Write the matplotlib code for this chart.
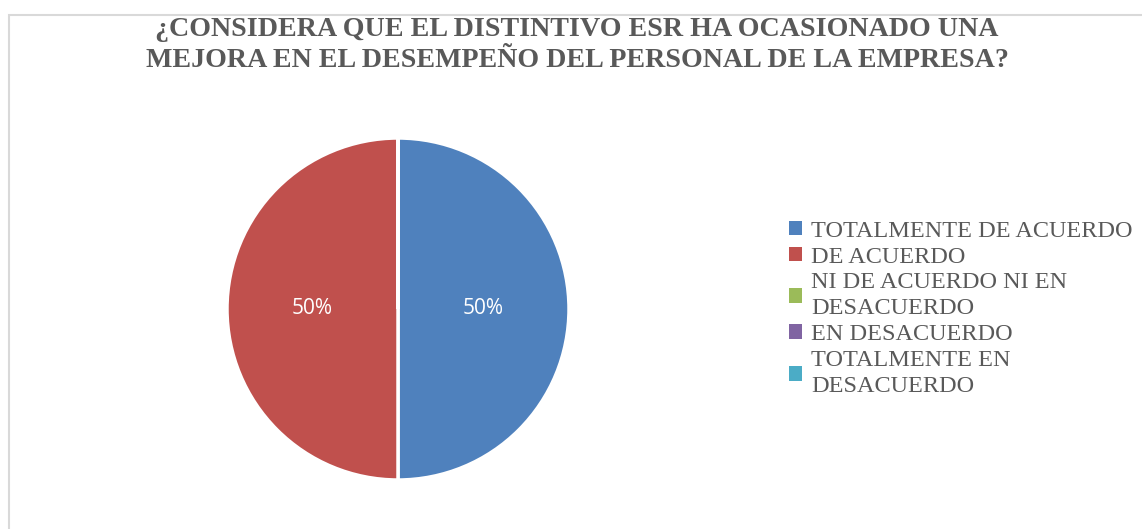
import matplotlib
matplotlib.use("Agg")
import matplotlib.pyplot as plt
from matplotlib.patches import Rectangle

title = "¿CONSIDERA QUE EL DISTINTIVO ESR HA OCASIONADO UNA\nMEJORA EN EL DESEMPEÑO DEL PERSONAL DE LA EMPRESA?"
categories = ["TOTALMENTE DE ACUERDO", "DE ACUERDO", "NI DE ACUERDO NI EN\nDESACUERDO",
              "EN DESACUERDO", "TOTALMENTE EN\nDESACUERDO"]
values = [50, 50, 0, 0, 0]
colors = ["#4F81BD", "#C0504D", "#9BBB59", "#8064A2", "#4BACC6"]

W, H = 1142, 529
fig = plt.figure(figsize=(W / 100, H / 100), dpi=100)
fig.patch.set_facecolor("white")

# chart border
fig.add_artist(Rectangle((8.5 / W, -0.1), 1.2, 1 - 14.5 / H + 0.1, transform=fig.transFigure,
                         fill=False, edgecolor="#d9d9d9", linewidth=1.5))

fig.text(577 / W, 1 - 45 / H, title, ha="center", va="center", fontsize=20.2,
         fontweight="bold", family="Liberation Serif", color="#595959", linespacing=1.35)

cx, cy, r = 398, 309, 171
ax = fig.add_axes([(cx - r) / W, (H - cy - r) / H, 2 * r / W, 2 * r / H])

def fmt(p):
    return f"{p:.0f}%" if p > 0 else ""

wedges, texts, autotexts = ax.pie(values, colors=colors, startangle=90, counterclock=False,
                                  autopct=fmt, pctdistance=0.5, radius=1,
                                  wedgeprops=dict(edgecolor="white", linewidth=2.5))
for t in autotexts:
    t.set_color("white")
    t.set_fontsize(15)
    t.set_family("Open Sans")
ax.set_xlim(-1, 1)
ax.set_ylim(-1, 1)
ax.set_aspect("equal")
ax.axis("off")

leg = fig.legend(wedges, categories, loc="center left", bbox_to_anchor=(789 / W, 1 - 309 / H),
                 frameon=False, prop={"family": "Liberation Serif", "size": 17.5},
                 handlelength=0.55, handleheight=0.55, handletextpad=0.35, labelspacing=0.2,
                 borderpad=0, borderaxespad=0, labelcolor="#595959")
for h in leg.legend_handles:
    h.set_edgecolor("none")
for t in leg.get_texts():
    t.set_linespacing(1.32)

fig.savefig("out.png", dpi=100)
